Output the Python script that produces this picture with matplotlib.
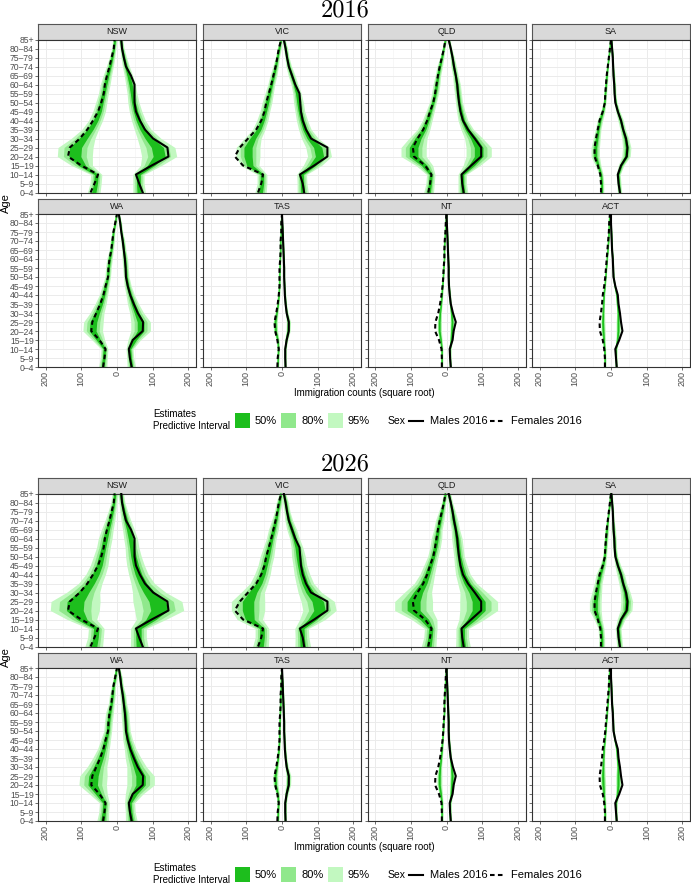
import matplotlib
matplotlib.use('Agg')
import matplotlib.pyplot as plt
from matplotlib.patches import Rectangle
from matplotlib.lines import Line2D
import numpy as np

plt.rcParams['font.family'] = ['Liberation Sans', 'DejaVu Sans']

AGES = ['0\u20134', '5\u20139', '10\u201314', '15\u201319', '20\u201324', '25\u201329',
        '30\u201334', '35\u201339', '40\u201344', '45\u201349', '50\u201354', '55\u201359',
        '60\u201364', '65\u201369', '70\u201374', '75\u201379', '80\u201384', '85+']
STATES = ['NSW', 'VIC', 'QLD', 'SA', 'WA', 'TAS', 'NT', 'ACT']
YEARS = ['2016', '2026']

# observed 2016 counts (square root), ages 0-4 .. 85+ ; females as magnitudes
male_obs = {
    'NSW': [72, 62, 53, 97, 144, 141, 101, 78, 64, 53, 49, 49, 49, 39, 25, 19, 14, 12],
    'VIC': [62, 58, 50, 90, 127, 127, 81, 67, 58, 53, 51, 49, 37, 28, 19, 14, 10, 5],
    'QLD': [48, 44, 42, 69, 97, 97, 79, 60, 46, 39, 35, 32, 30, 26, 21, 17, 12, 6],
    'SA':  [25, 21, 19, 28, 44, 46, 42, 34, 28, 19, 12, 10, 9, 7, 6, 5, 3, 1],
    'WA':  [41, 36, 33, 44, 72, 73, 58, 47, 37, 30, 25, 24, 22, 19, 16, 12, 9, 5],
    'TAS': [10, 9, 9, 13, 19, 19, 13, 10, 8, 7, 6, 6, 5, 4, 3, 2, 1, 0],
    'NT':  [12, 10, 9, 17, 20, 26, 18, 12, 9, 7, 6, 6, 5, 4, 3, 2, 1, 0],
    'ACT': [16, 14, 12, 23, 32, 28, 25, 21, 19, 12, 7, 6, 5, 3, 2, 1, 0, 0],
}
female_obs = {
    'NSW': [74, 63, 53, 100, 137, 132, 104, 83, 67, 53, 44, 37, 34, 28, 21, 15, 9, 7],
    'VIC': [67, 58, 53, 109, 132, 118, 95, 72, 58, 49, 44, 37, 30, 24, 18, 13, 9, 2],
    'QLD': [51, 46, 42, 60, 91, 94, 81, 65, 54, 46, 37, 32, 28, 24, 19, 13, 7, 3],
    'SA':  [28, 28, 30, 37, 46, 46, 42, 37, 32, 23, 17, 16, 14, 12, 9, 6, 3, 0],
    'WA':  [39, 35, 32, 49, 72, 69, 58, 47, 38, 32, 25, 24, 21, 16, 13, 10, 5, 0],
    'TAS': [13, 12, 9, 13, 19, 21, 16, 12, 9, 7, 7, 7, 5, 4, 4, 2, 2, 0],
    'NT':  [13, 13, 14, 21, 32, 31, 23, 18, 14, 11, 9, 8, 6, 6, 5, 3, 2, 0],
    'ACT': [17, 17, 19, 23, 31, 32, 28, 25, 23, 19, 16, 14, 12, 10, 8, 6, 5, 3],
}

# posterior medians of the estimates
male_med = {
    'NSW': [62, 60, 60, 95, 118, 113, 90, 72, 60, 52, 46, 42, 38, 32, 25, 19, 14, 10],
    'VIC': [58, 56, 55, 85, 105, 100, 78, 64, 56, 50, 46, 42, 35, 27, 19, 14, 10, 5],
    'QLD': [46, 44, 44, 70, 90, 90, 76, 58, 46, 40, 35, 32, 29, 25, 20, 16, 11, 6],
    'SA':  [24, 22, 20, 28, 42, 44, 40, 33, 27, 19, 13, 10, 9, 7, 6, 5, 3, 1],
    'WA':  [40, 37, 35, 48, 66, 66, 55, 45, 37, 30, 26, 24, 22, 19, 16, 12, 9, 5],
    'TAS': [9, 9, 9, 12, 17, 18, 13, 10, 8, 7, 6, 6, 5, 4, 3, 2, 1, 0],
    'NT':  [11, 10, 10, 13, 15, 16, 14, 11, 9, 7, 6, 6, 5, 4, 3, 2, 1, 0],
    'ACT': [15, 14, 14, 18, 20, 20, 20, 18, 16, 11, 7, 6, 5, 3, 2, 1, 0, 0],
}
female_med = {
    'NSW': [65, 60, 58, 98, 118, 116, 95, 75, 60, 50, 44, 38, 33, 27, 20, 14, 9, 6],
    'VIC': [60, 56, 56, 90, 95, 95, 82, 65, 55, 48, 42, 36, 30, 24, 18, 13, 8, 3],
    'QLD': [50, 46, 44, 62, 92, 92, 80, 64, 54, 46, 38, 32, 28, 24, 19, 13, 8, 3],
    'SA':  [26, 26, 28, 36, 44, 44, 40, 36, 31, 23, 18, 16, 14, 12, 9, 6, 3, 1],
    'WA':  [40, 37, 35, 52, 68, 66, 56, 46, 38, 32, 26, 24, 21, 16, 13, 10, 5, 1],
    'TAS': [12, 11, 10, 12, 18, 19, 15, 11, 9, 7, 7, 6, 5, 4, 4, 2, 2, 0],
    'NT':  [13, 13, 13, 16, 20, 20, 18, 15, 13, 11, 9, 8, 6, 6, 5, 3, 2, 0],
    'ACT': [17, 17, 18, 20, 22, 23, 22, 21, 20, 17, 15, 13, 11, 9, 7, 6, 5, 3],
}

# spread of the 2016 estimates (same for both sexes, read from the band widths)
spread = {
    'NSW': [9, 8, 8, 15, 25, 25, 17, 12, 10, 9, 8, 7, 7, 6, 5, 4, 3, 3],
    'VIC': [8, 7, 7, 13, 17, 17, 12, 9, 8, 7, 7, 6, 5, 5, 4, 3, 3, 2],
    'QLD': [7, 6, 6, 12, 18, 18, 13, 9, 7, 6, 5, 5, 5, 4, 4, 3, 2, 2],
    'SA':  [3, 3, 3, 4, 6, 6, 5, 4, 4, 3, 2, 2, 2, 2, 1, 1, 1, 1],
    'WA':  [6, 5, 5, 9, 14, 14, 10, 8, 6, 5, 4, 4, 4, 3, 3, 2, 2, 1],
    'TAS': [1.5, 1.5, 1.5, 2, 3, 3, 2, 1.5, 1.5, 1, 1, 1, 1, 1, 1, 1, 0.5, 0.5],
    'NT':  [1.5, 1.5, 1.5, 2, 3, 3, 2, 1.5, 1.5, 1, 1, 1, 1, 1, 1, 1, 0.5, 0.5],
    'ACT': [1.5, 1.5, 1.5, 2, 3, 3, 2, 1.5, 1.5, 1, 1, 1, 1, 1, 1, 1, 0.5, 0.5],
}
# widening of the intervals for the 2026 projection
spread_2026 = {'NSW': 1.4, 'VIC': 1.4, 'QLD': 1.5, 'SA': 1.4,
               'WA': 1.4, 'TAS': 1.2, 'NT': 1.2, 'ACT': 1.2}

Z = {'95%': 1.96, '80%': 1.28, '50%': 0.674}
BAND_COLORS = {'50%': '#1DBE1D', '80%': '#90E88C', '95%': '#C2F8C0'}
MEDIAN_COLOR = '#3CDC3C'
DASH = (0, (2.2, 1.6))

W, H = 691, 884
fig = plt.figure(figsize=(W / 100, H / 100), dpi=100)


def add_px(left, top, w, h):
    return fig.add_axes([left / W, 1 - (top + h) / H, w / W, h / H])


def ftxt(x, y, s, **kw):
    fig.text(x / W, 1 - y / H, s, **kw)


col_left = [38, 203, 367.5, 532]
col_w = 158
strip_h = 15.5
panel_h = 153
block_top = {'2016': 24, '2026': 478}
row_gap = 174.5
y = np.arange(len(AGES))


def band(ax, sign, med, sd, iv, z):
    ax.fill_betweenx(y, sign * (med - Z[iv] * sd), sign * (med + Z[iv] * sd),
                     color=BAND_COLORS[iv], lw=0, zorder=z)


def draw_panel(ax, state, year):
    k = spread_2026[state] if year == '2026' else 1.0
    sd = np.array(spread[state]) * k
    for sign, med in ((1, male_med[state]), (-1, female_med[state])):
        med = np.array(med)
        band(ax, sign, med, sd, '95%', 2)
        band(ax, sign, med, sd, '80%', 2.1)
        ax.plot(sign * med, y, color=MEDIAN_COLOR, lw=1.0, zorder=2.2)
        band(ax, sign, med, sd, '50%', 2.3)
    ax.plot(male_obs[state], y, color='black', lw=1.5, zorder=4)
    ax.plot(-np.array(female_obs[state]), y, color='black', lw=1.5,
            ls=DASH, zorder=4)

    ax.set_xlim(-221, 221)
    ax.set_ylim(0, len(AGES) - 1)
    ax.set_xticks([-200, -100, 0, 100, 200])
    ax.set_xticks([-150, -50, 50, 150], minor=True)
    ax.set_yticks(y)
    ax.grid(True, which='major', color='#EBEBEB', lw=0.7, zorder=0)
    ax.grid(True, which='minor', axis='x', color='#F2F2F2', lw=0.4, zorder=0)
    ax.set_axisbelow(True)
    for sp in ax.spines.values():
        sp.set_color('#333333')
        sp.set_linewidth(0.8)
    ax.tick_params(which='both', length=2, width=0.5, color='#333333',
                   labelcolor='#4D4D4D', pad=1)
    ax.tick_params(axis='y', labelsize=6.2)
    ax.tick_params(axis='x', labelsize=6.5)
    ax.tick_params(which='minor', length=0)


for year in YEARS:
    top0 = block_top[year]
    ftxt(345.5, top0 - 14, year, ha='center', va='center', fontsize=17.5,
         family='cmr10')
    for i, state in enumerate(STATES):
        r, c = divmod(i, 4)
        st_top = top0 + r * row_gap
        sax = add_px(col_left[c], st_top, col_w, strip_h)
        sax.set_facecolor('#D9D9D9')
        sax.set_xticks([])
        sax.set_yticks([])
        for sp in sax.spines.values():
            sp.set_color('#555555')
            sp.set_linewidth(0.8)
        sax.text(0.5, 0.5, state, ha='center', va='center', fontsize=6.5,
                 color='#1A1A1A', transform=sax.transAxes)

        ax = add_px(col_left[c], st_top + strip_h, col_w, panel_h)
        draw_panel(ax, state, year)
        if c == 0:
            ax.set_yticklabels(AGES)
        else:
            ax.set_yticklabels([])
        if r == 1:
            ax.set_xticklabels(['200', '100', '0', '100', '200'], rotation=90)
        else:
            ax.set_xticklabels([])

    grid_top = top0 + strip_h
    grid_bot = top0 + row_gap + strip_h + panel_h
    ftxt(6, (grid_top + grid_bot) / 2, 'Age', rotation=90, ha='center',
         va='center', fontsize=8)
    ftxt(364, grid_bot + 26, 'Immigration counts (square root)', ha='center',
         va='center', fontsize=7)

    # legend
    ly = grid_bot + 53
    ftxt(153, ly - 6, 'Estimates', ha='left', va='center', fontsize=7)
    ftxt(153, ly + 6, 'Predictive Interval', ha='left', va='center',
         fontsize=7)
    for x0, iv in zip([235, 281, 328], ['50%', '80%', '95%']):
        fig.patches.append(Rectangle((x0 / W, 1 - (ly + 8) / H), 15 / W,
                                     15 / H, transform=fig.transFigure,
                                     facecolor=BAND_COLORS[iv], lw=0))
        ftxt(x0 + 20, ly + 1, iv, ha='left', va='center', fontsize=8)
    ftxt(388, ly + 1, 'Sex', ha='left', va='center', fontsize=7.5)
    for x0, ls, lab in [(409, '-', 'Males 2016'), (490, DASH, 'Females 2016')]:
        fig.lines.append(Line2D([x0 / W, (x0 + 14) / W],
                                [1 - (ly + 1) / H, 1 - (ly + 1) / H],
                                transform=fig.transFigure, color='black',
                                lw=1.5, ls=ls))
        ftxt(x0 + 21, ly + 1, lab, ha='left', va='center', fontsize=8)

fig.savefig('out.png', dpi=100)
